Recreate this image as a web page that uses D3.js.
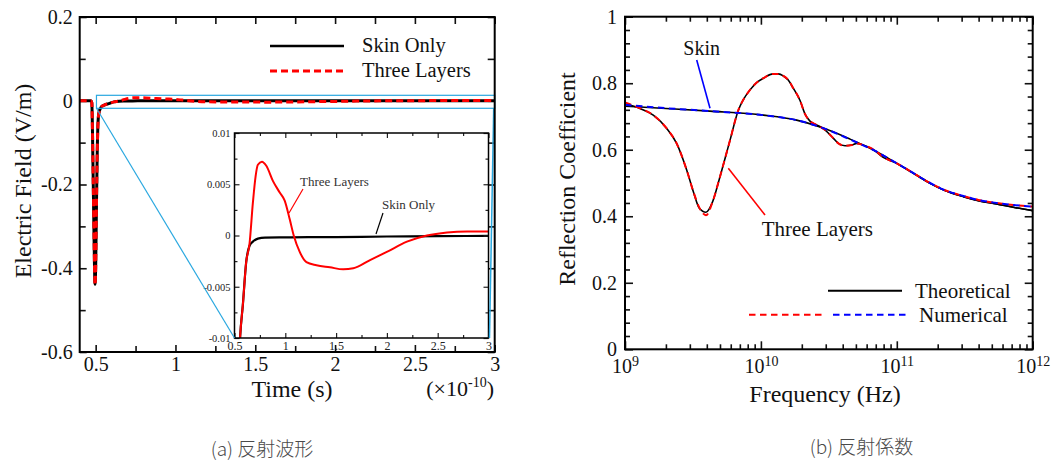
<!DOCTYPE html>
<html><head><meta charset="utf-8">
<script src="https://cdn.jsdelivr.net/npm/d3@7"></script>
<style>
body{margin:0;background:#fff}
</style></head><body><svg id="c" width="1059" height="461"></svg>
<script>
// ---------- DATA: (a) reflected waveform, time in units of 1e-10 s ----------
const timeSpike   = [0.40, 0.47, 0.476, 0.479, 0.485, 0.49, 0.496, 0.50, 0.505, 0.51, 0.515, 0.52, 0.53, 0.545];
const skinSpike   = [0, 0, -0.005, -0.05, -0.2, -0.33, -0.438, -0.40, -0.25, -0.12, -0.05, -0.03, -0.018, -0.012];
const threeSpike  = [0, 0, -0.005, -0.05, -0.2, -0.33, -0.440, -0.40, -0.25, -0.12, -0.05, -0.03, -0.018, -0.012];
const timeSkin    = [0.556, 0.582, 0.615, 0.648, 0.681, 0.73, 0.8, 1.0, 1.5, 2.0, 2.5, 3.0];
const skinTail    = [-0.0098, -0.0068, -0.0026, -0.0010, -0.0006, -0.0003, -0.0002, -0.00018, -0.00015, -0.0001, -0.00007, -0.00003];
const timeThree   = [0.556, 0.582, 0.615, 0.648, 0.681, 0.708, 0.73, 0.77, 0.813, 0.879, 0.945, 0.994, 1.043, 1.083, 1.142, 1.208, 1.307, 1.439, 1.57, 1.669, 1.834, 1.999, 2.197, 2.394, 2.592, 2.79, 3.0];
const threeTail   = [-0.0098, -0.0068, -0.0026, -0.0008, 0.0032, 0.0058, 0.0069, 0.0072, 0.0068, 0.0053, 0.0042, 0.0034, 0.0016, 0, -0.0016, -0.0026, -0.0029, -0.0031, -0.0033, -0.0032, -0.0024, -0.0016, -0.0006, 0, 0.0003, 0.0004, 0.0004];
const timeMajor   = [0.5, 1, 1.5, 2, 2.5, 3];
const timeMinor   = [0.75, 1.25, 1.75, 2.25, 2.75];
const fieldMajor  = [-0.6, -0.4, -0.2, 0, 0.2];
const fieldMinor  = [-0.5, -0.3, -0.1, 0.1];
const insetMajor  = [-0.01, -0.005, 0, 0.005, 0.01];
const insetMinor  = [-0.0075, -0.0025, 0.0025, 0.0075];
const zoomTime    = [0.505, 3.0];
const zoomField   = [-0.018, 0.013];

// ---------- DATA: (b) reflection coefficient ----------
const freqSkin    = [1e9, 2.0e9, 4.217e9, 1.042e10, 1.832e10, 2.877e10, 4.519e10, 7.112e10, 1e11, 1.259e11, 1.758e11, 2.239e11, 3.090e11, 3.981e11, 5.433e11, 7.194e11, 1e12];
const skinTheory  = [0.731, 0.724, 0.716, 0.704, 0.689, 0.665, 0.632, 0.594, 0.559, 0.535, 0.499, 0.478, 0.459, 0.447, 0.437, 0.427, 0.417];
const skinNumer   = [0.735, 0.725, 0.716, 0.704, 0.689, 0.665, 0.631, 0.594, 0.559, 0.535, 0.500, 0.479, 0.461, 0.449, 0.440, 0.434, 0.429];
const freqThree   = [1e9, 1.288e9, 1.614e9, 2.028e9, 2.399e9, 2.844e9, 3.184e9, 3.524e9, 3.945e9, 4.416e9, 5.0e9, 5.93e9, 6.823e9, 7.413e9, 8.318e9, 9.311e9, 1.042e10, 1.233e10, 1.343e10, 1.462e10, 1.589e10, 1.730e10, 1.941e10, 2.109e10, 2.296e10, 2.5e10, 2.716e10, 2.958e10, 3.404e10, 3.715e10, 4.159e10, 4.677e10, 5.070e10, 5.662e10, 6.902e10, 7.943e10, 1e11, 1.259e11, 1.758e11, 2.239e11, 3.090e11, 3.981e11, 5.433e11, 7.194e11, 1e12];
const threeTheory = [0.739, 0.724, 0.704, 0.664, 0.619, 0.539, 0.474, 0.424, 0.412, 0.444, 0.519, 0.629, 0.719, 0.75, 0.78, 0.802, 0.815, 0.828, 0.828, 0.822, 0.81, 0.785, 0.748, 0.708, 0.686, 0.677, 0.670, 0.660, 0.635, 0.619, 0.612, 0.614, 0.619, 0.614, 0.597, 0.577, 0.559, 0.535, 0.499, 0.478, 0.459, 0.447, 0.437, 0.427, 0.417];
const threeNumer  = [0.742, 0.725, 0.704, 0.664, 0.619, 0.539, 0.474, 0.426, 0.403, 0.444, 0.519, 0.629, 0.719, 0.75, 0.78, 0.802, 0.815, 0.828, 0.828, 0.822, 0.81, 0.785, 0.748, 0.708, 0.686, 0.677, 0.670, 0.660, 0.635, 0.619, 0.612, 0.614, 0.619, 0.614, 0.598, 0.578, 0.559, 0.535, 0.500, 0.479, 0.461, 0.449, 0.440, 0.434, 0.429];
const coefMajor   = [0, 0.2, 0.4, 0.6, 0.8, 1];
const freqMajor   = [1e9, 1e10, 1e11, 1e12];

// ---------- DRAW ----------
const serif = '"Liberation Serif","Times New Roman",serif';
const svg = d3.select("#c");
svg.append("rect").attr("width", 1059).attr("height", 461).attr("fill", "#fff");
const defs = svg.append("defs");

function styleAxis(g, size, col, sw) {
  g.select(".domain").remove();
  g.attr("font-family", serif).attr("font-size", size).attr("color", col || "#111");
  g.selectAll(".tick line").attr("stroke-width", sw || 1.6);
}
function addAxis(parent, axis, tx, ty, size, col, sw) {
  const g = parent.append("g").attr("transform", `translate(${tx},${ty})`).call(axis);
  styleAxis(g, size, col, sw);
  return g;
}
const fmt = d => String(d);

// ===== (a) =====
const A = {x0: 79.7, x1: 494.7, y0: 17, y1: 352};
const xA = d3.scaleLinear([0.4, 3], [A.x0, A.x1]);
const yA = d3.scaleLinear([-0.6, 0.2], [A.y1, A.y0]);
const gA = svg.append("g");

defs.append("clipPath").attr("id", "clipA").append("rect")
  .attr("x", A.x0).attr("y", A.y0).attr("width", A.x1 - A.x0).attr("height", A.y1 - A.y0);

// ticks
addAxis(gA, d3.axisBottom(xA).tickValues(timeMajor).tickSize(-7).tickPadding(5).tickFormat(fmt), 0, A.y1, 20);
addAxis(gA, d3.axisBottom(xA).tickValues(timeMinor).tickSize(-6).tickFormat(""), 0, A.y1, 20);
addAxis(gA, d3.axisTop(xA).tickValues(timeMajor.concat(timeMinor)).tickSize(-7).tickFormat(""), 0, A.y0, 20);
addAxis(gA, d3.axisLeft(yA).tickValues(fieldMajor).tickSize(-7).tickPadding(7).tickFormat(fmt), A.x0, 0, 20);
addAxis(gA, d3.axisLeft(yA).tickValues(fieldMinor).tickSize(-6).tickFormat(""), A.x0, 0, 20);
addAxis(gA, d3.axisRight(yA).tickValues(fieldMajor.concat(fieldMinor)).tickSize(-7).tickFormat(""), A.x1, 0, 20);

// curves
const skinMain = d3.zip(timeSpike.concat(timeSkin), skinSpike.concat(skinTail));
const threeMain = d3.zip(timeSpike.concat(timeThree), threeSpike.concat(threeTail));
const lineA = d3.line().x(d => xA(d[0])).y(d => yA(d[1])).curve(d3.curveMonotoneX);
const cA = gA.append("g").attr("clip-path", "url(#clipA)");
cA.append("path").attr("d", lineA(skinMain)).attr("fill", "none").attr("stroke", "#000").attr("stroke-width", 3);
cA.append("path").attr("d", lineA(threeMain)).attr("fill", "none").attr("stroke", "#f00").attr("stroke-width", 3).attr("stroke-dasharray", "7,4");

// legend (a)
gA.append("line").attr("x1", 270).attr("x2", 344).attr("y1", 46).attr("y2", 46).attr("stroke", "#000").attr("stroke-width", 2.5);
gA.append("text").attr("x", 362).attr("y", 52).attr("font-family", serif).attr("font-size", 20.5).attr("fill", "#111").text("Skin Only");
gA.append("line").attr("x1", 270).attr("x2", 344).attr("y1", 71).attr("y2", 71).attr("stroke", "#f00").attr("stroke-width", 3).attr("stroke-dasharray", "7,4");
gA.append("text").attr("x", 362).attr("y", 77).attr("font-family", serif).attr("font-size", 20.5).attr("fill", "#111").text("Three Layers");

// inset
const I = {x0: 234.5, x1: 488.5, y0: 133, y1: 338};
const xI = d3.scaleLinear([0.5, 3], [I.x0, I.x1]);
const yI = d3.scaleLinear([-0.01, 0.01], [I.y1, I.y0]);
const gI = gA.append("g");
gI.append("rect").attr("x", I.x0).attr("y", I.y0).attr("width", I.x1 - I.x0).attr("height", I.y1 - I.y0).attr("fill", "#fff");
defs.append("clipPath").attr("id", "clipI").append("rect")
  .attr("x", I.x0).attr("y", I.y0).attr("width", I.x1 - I.x0).attr("height", I.y1 - I.y0);
const lineI = d3.line().x(d => xI(d[0])).y(d => yI(d[1])).curve(d3.curveMonotoneX);
const cI = gI.append("g").attr("clip-path", "url(#clipI)");
cI.append("path").attr("d", lineI(skinMain)).attr("fill", "none").attr("stroke", "#000").attr("stroke-width", 2.2);
cI.append("path").attr("d", lineI(threeMain)).attr("fill", "none").attr("stroke", "#f00").attr("stroke-width", 2);
addAxis(gI, d3.axisBottom(xI).tickValues(timeMajor).tickSize(-5).tickPadding(3.5).tickFormat(fmt), 0, I.y1, 12, "#222", 1.2);
addAxis(gI, d3.axisBottom(xI).tickValues(timeMinor).tickSize(-3).tickFormat(""), 0, I.y1, 12, "#222", 1.2);
addAxis(gI, d3.axisTop(xI).tickValues(timeMajor).tickSize(-5).tickFormat(""), 0, I.y0, 12, "#222", 1.2);
addAxis(gI, d3.axisTop(xI).tickValues(timeMinor).tickSize(-3).tickFormat(""), 0, I.y0, 12, "#222", 1.2);
addAxis(gI, d3.axisLeft(yI).tickValues(insetMajor).tickSize(-5).tickPadding(4).tickFormat(fmt), I.x0, 0, 10.5, "#222", 1.2);
addAxis(gI, d3.axisLeft(yI).tickValues(insetMinor).tickSize(-3).tickFormat(""), I.x0, 0, 10.5, "#222", 1.2);
addAxis(gI, d3.axisRight(yI).tickValues(insetMajor).tickSize(-5).tickFormat(""), I.x1, 0, 10.5, "#222", 1.2);
addAxis(gI, d3.axisRight(yI).tickValues(insetMinor).tickSize(-3).tickFormat(""), I.x1, 0, 10.5, "#222", 1.2);
gI.append("rect").attr("x", I.x0).attr("y", I.y0).attr("width", I.x1 - I.x0).attr("height", I.y1 - I.y0)
  .attr("fill", "none").attr("stroke", "#000").attr("stroke-width", 1.5);
// inset annotations
gI.append("text").attr("x", 300).attr("y", 186).attr("font-family", serif).attr("font-size", 13).attr("fill", "#333").text("Three Layers");
gI.append("line").attr("x1", 303).attr("y1", 189).attr("x2", 289).attr("y2", 213).attr("stroke", "#f00").attr("stroke-width", 1.2);
gI.append("text").attr("x", 382).attr("y", 209).attr("font-family", serif).attr("font-size", 13).attr("fill", "#333").text("Skin Only");
gI.append("line").attr("x1", 383).attr("y1", 213).attr("x2", 376).attr("y2", 234).attr("stroke", "#000").attr("stroke-width", 1.2);

// zoom box and connectors
const zc = "#2aa8e0";
gA.append("rect").attr("x", xA(zoomTime[0])).attr("y", yA(zoomField[1]))
  .attr("width", xA(zoomTime[1]) - xA(zoomTime[0])).attr("height", yA(zoomField[0]) - yA(zoomField[1]))
  .attr("fill", "none").attr("stroke", zc).attr("stroke-width", 1.2);
gA.append("line").attr("x1", xA(zoomTime[0])).attr("y1", yA(zoomField[0])).attr("x2", I.x0).attr("y2", I.y1).attr("stroke", zc).attr("stroke-width", 1.2);
gA.append("line").attr("x1", xA(zoomTime[1]) - 1).attr("y1", yA(zoomField[0])).attr("x2", I.x1 + 1).attr("y2", I.y1).attr("stroke", zc).attr("stroke-width", 1.5);

// frame (a)
gA.append("rect").attr("x", A.x0).attr("y", A.y0).attr("width", A.x1 - A.x0).attr("height", A.y1 - A.y0)
  .attr("fill", "none").attr("stroke", "#000").attr("stroke-width", 2);

// axis titles (a)
gA.append("text").attr("x", 292).attr("y", 397).attr("text-anchor", "middle").attr("font-family", serif).attr("font-size", 24).attr("fill", "#111").text("Time (s)");
const mult = gA.append("text").attr("x", 494).attr("y", 396).attr("text-anchor", "end").attr("font-family", serif).attr("font-size", 22).attr("fill", "#111");
mult.append("tspan").text("(×10");
mult.append("tspan").attr("font-size", 14).attr("dy", -9).text("-10");
mult.append("tspan").attr("dy", 9).text(")");
gA.append("text").attr("transform", "translate(31,181) rotate(-90)").attr("text-anchor", "middle").attr("font-family", serif).attr("font-size", 24).attr("fill", "#111").text("Electric Field (V/m)");

// ===== (b) =====
const B = {x0: 625, x1: 1032.7, y0: 16.7, y1: 349.3};
const xB = d3.scaleLog([1e9, 1e12], [B.x0, B.x1]);
const yB = d3.scaleLinear([0, 1], [B.y1, B.y0]);
const gB = svg.append("g");
const coefMinor = d3.range(0, 1.0001, 0.04).filter(v => Math.abs(v * 5 - Math.round(v * 5)) > 1e-6);
const freqMinor = xB.ticks().filter(v => !freqMajor.some(m => Math.abs(m - v) / m < 1e-6));

const xb = addAxis(gB, d3.axisBottom(xB).tickValues(freqMajor).tickSize(-8).tickPadding(9.5).tickFormat(() => ""), 0, B.y1, 20);
xb.selectAll(".tick text").each(function(d) {
  const t = d3.select(this);
  t.append("tspan").text("10");
  t.append("tspan").attr("font-size", 14).attr("dy", -7).text(String(Math.round(Math.log10(d))));
});
addAxis(gB, d3.axisBottom(xB).tickValues(freqMinor).tickSize(-5).tickFormat(""), 0, B.y1, 20);
addAxis(gB, d3.axisTop(xB).tickValues(freqMajor).tickSize(-8).tickFormat(""), 0, B.y0, 20);
addAxis(gB, d3.axisTop(xB).tickValues(freqMinor).tickSize(-5).tickFormat(""), 0, B.y0, 20);
addAxis(gB, d3.axisLeft(yB).tickValues(coefMajor).tickSize(-8).tickPadding(8).tickFormat(fmt), B.x0, 0, 20);
addAxis(gB, d3.axisLeft(yB).tickValues(coefMinor).tickSize(-5).tickFormat(""), B.x0, 0, 20);
addAxis(gB, d3.axisRight(yB).tickValues(coefMajor).tickSize(-8).tickFormat(""), B.x1, 0, 20);
addAxis(gB, d3.axisRight(yB).tickValues(coefMinor).tickSize(-5).tickFormat(""), B.x1, 0, 20);

defs.append("clipPath").attr("id", "clipB").append("rect")
  .attr("x", B.x0).attr("y", B.y0).attr("width", B.x1 - B.x0).attr("height", B.y1 - B.y0);
const lineB = d3.line().x(d => xB(d[0])).y(d => yB(d[1])).curve(d3.curveMonotoneX);
const cB = gB.append("g").attr("clip-path", "url(#clipB)");
cB.append("path").attr("d", lineB(d3.zip(freqSkin, skinTheory))).attr("fill", "none").attr("stroke", "#000").attr("stroke-width", 1.6);
cB.append("path").attr("d", lineB(d3.zip(freqThree, threeTheory))).attr("fill", "none").attr("stroke", "#000").attr("stroke-width", 1.6);
cB.append("path").attr("d", lineB(d3.zip(freqThree, threeNumer))).attr("fill", "none").attr("stroke", "#f00").attr("stroke-width", 2).attr("stroke-dasharray", "6.5,4.5");
cB.append("path").attr("d", lineB(d3.zip(freqSkin, skinNumer))).attr("fill", "none").attr("stroke", "#00f").attr("stroke-width", 2).attr("stroke-dasharray", "6.5,4.5");

// annotations (b)
gB.append("text").attr("x", 701.7).attr("y", 55).attr("text-anchor", "middle").attr("font-family", serif).attr("font-size", 20).attr("fill", "#111").text("Skin");
gB.append("line").attr("x1", 696.7).attr("y1", 60).attr("x2", 710).attr("y2", 108.3).attr("stroke", "#00f").attr("stroke-width", 1.6);
gB.append("text").attr("x", 761.7).attr("y", 236).attr("font-family", serif).attr("font-size", 21).attr("fill", "#111").text("Three Layers");
gB.append("line").attr("x1", 728.3).attr("y1", 168.3).attr("x2", 765).attr("y2", 215).attr("stroke", "#f00").attr("stroke-width", 1.6);

// legend (b)
gB.append("line").attr("x1", 828).attr("x2", 902).attr("y1", 290.7).attr("y2", 290.7).attr("stroke", "#000").attr("stroke-width", 2);
gB.append("text").attr("x", 915).attr("y", 298).attr("font-family", serif).attr("font-size", 21).attr("fill", "#111").text("Theoretical");
gB.append("line").attr("x1", 749).attr("x2", 822).attr("y1", 314.7).attr("y2", 314.7).attr("stroke", "#f00").attr("stroke-width", 2).attr("stroke-dasharray", "6.5,4.5");
gB.append("line").attr("x1", 833).attr("x2", 906).attr("y1", 314.7).attr("y2", 314.7).attr("stroke", "#00f").attr("stroke-width", 2).attr("stroke-dasharray", "6.5,4.5");
gB.append("text").attr("x", 919).attr("y", 322).attr("font-family", serif).attr("font-size", 21).attr("fill", "#111").text("Numerical");

// frame (b)
gB.append("rect").attr("x", B.x0).attr("y", B.y0).attr("width", B.x1 - B.x0).attr("height", B.y1 - B.y0)
  .attr("fill", "none").attr("stroke", "#000").attr("stroke-width", 2);

// axis titles (b)
gB.append("text").attr("x", 825).attr("y", 402).attr("text-anchor", "middle").attr("font-family", serif).attr("font-size", 24).attr("fill", "#111").text("Frequency (Hz)");
gB.append("text").attr("transform", "translate(575,179) rotate(-90)").attr("text-anchor", "middle").attr("font-family", serif).attr("font-size", 24).attr("fill", "#111").text("Reflection Coefficient");

// captions
const capFont = '"Noto Sans CJK JP","Noto Sans",sans-serif';
svg.append("text").attr("x", 262).attr("y", 456).attr("text-anchor", "middle").attr("font-family", capFont).attr("font-size", 19).attr("font-weight", 300).attr("fill", "#4a4a4a").text("(a) 反射波形");
svg.append("text").attr("x", 861.5).attr("y", 454).attr("text-anchor", "middle").attr("font-family", capFont).attr("font-size", 19).attr("font-weight", 300).attr("fill", "#4a4a4a").text("(b) 反射係数");
</script></body></html>
